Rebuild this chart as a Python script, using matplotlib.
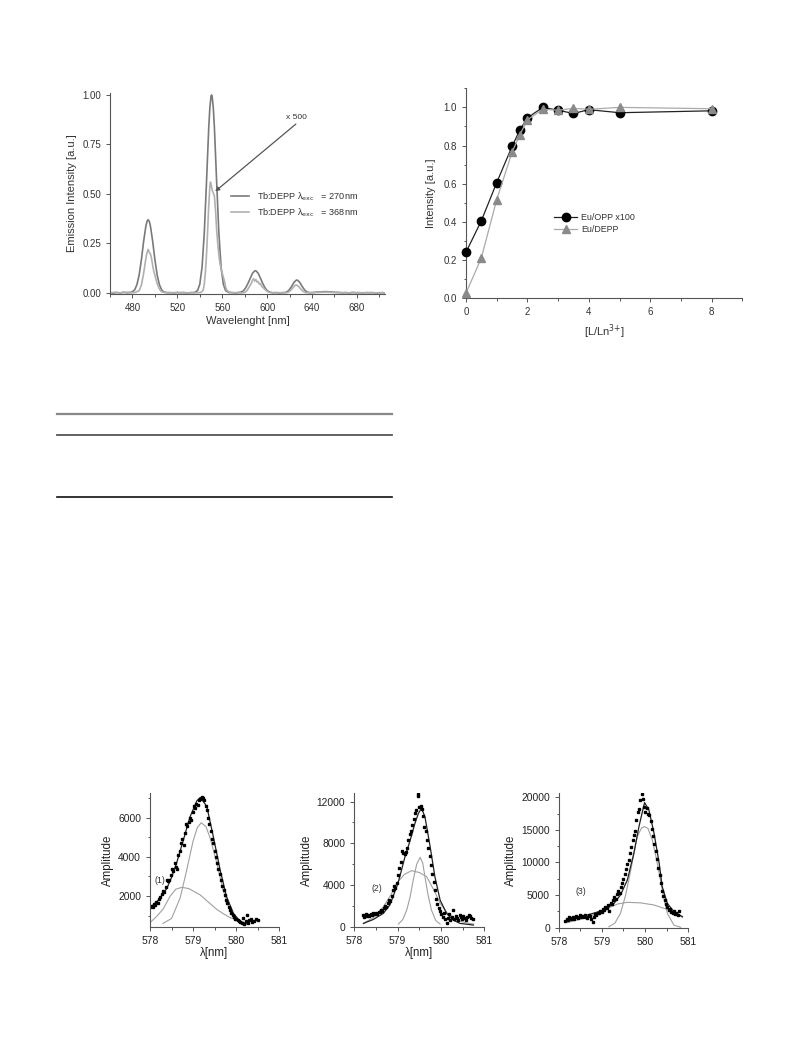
import matplotlib
matplotlib.use("Agg")
import matplotlib.pyplot as plt
from matplotlib.ticker import MultipleLocator
from matplotlib.lines import Line2D

plt.rcParams['font.family'] = ['Liberation Sans', 'DejaVu Sans']

# ---------------- data: emission spectra (top left) ----------------
wl_270 = [460, 463, 466, 469, 472, 475, 478, 480, 482, 484, 486, 488, 490, 492, 493, 494, 495, 496, 498,
          500, 502, 504, 506, 508, 511, 514, 517, 520, 523, 526, 529, 532, 535, 538, 540, 542, 544, 546,
          548, 549, 550, 550.5, 551, 552, 553, 555, 557, 559, 561, 563, 566, 569, 572, 575, 577, 579, 581,
          583, 585, 587, 589, 590, 592, 594, 596, 598, 600, 602, 605, 608, 611, 614, 616, 618, 620, 622,
          624, 626, 627, 629, 631, 633, 635, 637, 640, 643, 646, 649, 652, 655, 658, 661, 664, 667, 670,
          673, 676, 679, 682, 685, 688, 691, 694, 697, 700, 703, 705]
int_270 = [0.002, -0.001, 0.003, 0.000, 0.004, 0.001, 0.002, 0.007, 0.016, 0.042, 0.092, 0.169, 0.262,
           0.339, 0.362, 0.370, 0.362, 0.339, 0.262, 0.169, 0.092, 0.042, 0.016, 0.005, 0.002, 0.002,
           0.000, 0.003, 0.001, 0.002, 0.000, 0.002, 0.002, 0.012, 0.044, 0.129, 0.302, 0.563, 0.838,
           0.938, 0.993, 1.000, 0.993, 0.938, 0.838, 0.563, 0.302, 0.129, 0.044, 0.012, 0.002, 0.002,
           0.000, 0.003, 0.005, 0.012, 0.027, 0.049, 0.075, 0.100, 0.112, 0.112, 0.100, 0.075, 0.049,
           0.027, 0.012, 0.005, 0.001, 0.002, 0.000, 0.002, 0.002, 0.007, 0.018, 0.035, 0.054, 0.065,
           0.065, 0.054, 0.035, 0.018, 0.007, 0.002, 0.002, 0.004, 0.005, 0.006, 0.007, 0.006, 0.005,
           0.003, 0.003, 0.001, 0.002, 0.000, 0.003, 0.001, 0.002, 0.000, 0.002, 0.001, 0.002, 0.000,
           0.001, 0.002, 0.000]

wl_368 = [460, 464, 468, 472, 476, 480, 483, 486, 488, 490, 492, 493, 494, 495, 496, 497, 498, 499, 500,
          501, 502, 504, 506, 509, 513, 517, 521, 525, 529, 533, 537, 541, 543, 544, 545, 546, 547, 548,
          549, 549.5, 550, 551, 552, 553, 554, 555, 556, 557, 558, 559, 560, 561, 562, 563, 564, 566, 569,
          573, 577, 580, 582, 584, 586, 587, 588, 589, 590, 591, 592, 593, 594, 595, 596, 598, 600, 602,
          606, 610, 614, 618, 620, 622, 624, 625, 626, 627, 628, 630, 632, 634, 638, 642, 646, 650, 654,
          658, 662, 666, 670, 674, 678, 682, 686, 690, 694, 698, 702, 705]
int_368 = [0.001, 0.003, 0.000, 0.002, 0.004, 0.001, 0.004, 0.012, 0.040, 0.100, 0.175, 0.205, 0.220,
           0.205, 0.198, 0.175, 0.140, 0.110, 0.090, 0.068, 0.048, 0.020, 0.006, 0.002, 0.000, 0.002,
           0.001, 0.003, 0.000, 0.002, 0.001, 0.003, 0.014, 0.045, 0.105, 0.195, 0.315, 0.445, 0.540,
           0.560, 0.550, 0.520, 0.505, 0.490, 0.420, 0.320, 0.250, 0.190, 0.150, 0.120, 0.100, 0.080,
           0.060, 0.030, 0.015, 0.005, 0.001, 0.002, 0.000, 0.003, 0.012, 0.030, 0.050, 0.065, 0.072,
           0.060, 0.068, 0.055, 0.058, 0.045, 0.048, 0.035, 0.030, 0.018, 0.008, 0.003, 0.001, 0.002,
           0.000, 0.002, 0.008, 0.020, 0.033, 0.039, 0.040, 0.038, 0.033, 0.020, 0.008, 0.002, 0.001,
           0.002, 0.003, 0.004, 0.004, 0.003, 0.002, 0.001, 0.002, 0.000, 0.002, 0.001, 0.000, 0.002,
           0.001, 0.000, 0.001, 0.000]

# ---------------- data: titration (top right) ----------------
ratio = [0, 0.5, 1, 1.5, 1.75, 2, 2.5, 3, 3.5, 4, 5, 8]
eu_opp = [0.24, 0.405, 0.605, 0.795, 0.88, 0.945, 1.0, 0.985, 0.968, 0.988, 0.972, 0.982]
eu_depp = [0.025, 0.21, 0.515, 0.765, 0.855, 0.935, 0.99, 0.985, 0.995, 0.99, 1.0, 0.993]

# ---------------- data: deconvolution panels (bottom) ----------------
p1_x = [578.00, 578.03, 578.06, 578.09, 578.12, 578.15, 578.18, 578.21, 578.24, 578.27, 578.30, 578.33,
        578.36, 578.39, 578.42, 578.45, 578.48, 578.51, 578.54, 578.57, 578.60, 578.63, 578.66, 578.69,
        578.72, 578.75, 578.78, 578.81, 578.84, 578.87, 578.90, 578.93, 578.96, 578.99, 579.02, 579.05,
        579.08, 579.11, 579.14, 579.17, 579.20, 579.23, 579.26, 579.29, 579.32, 579.35, 579.38, 579.41,
        579.44, 579.47, 579.50, 579.53, 579.56, 579.59, 579.62, 579.65, 579.68, 579.71, 579.74, 579.77,
        579.80, 579.83, 579.86, 579.89, 579.92, 579.95, 579.98, 580.01, 580.04, 580.07, 580.10, 580.13,
        580.16, 580.19, 580.22, 580.25, 580.28, 580.31, 580.34, 580.38, 580.42, 580.46, 580.50]
p1_y = [1450, 1500, 1420, 1600, 1550, 1700, 1650, 1850, 1950, 2100, 2250, 2200, 2450, 2800, 2750, 2800,
        3050, 3400, 3300, 3700, 3500, 3400, 4100, 4300, 4700, 4900, 4600, 5200, 5700, 5600, 5800, 6000,
        5900, 6300, 6600, 6500, 6700, 6650, 6900, 6950, 7050, 7000, 6900, 6600, 6400, 6000, 5700, 5300,
        4900, 4700, 4300, 4000, 3700, 3400, 3100, 2800, 2500, 2300, 2050, 1800, 1650, 1450, 1300, 1150,
        1050, 950, 850, 800, 750, 700, 650, 600, 900, 550, 700, 1050, 600, 750, 850, 650, 700, 800, 750]
p1_fit_x = [578.0, 578.2, 578.39, 578.5, 578.62, 578.78, 578.93, 579.09, 579.17, 579.32, 579.47, 579.63,
            579.78, 579.94, 580.1, 580.26]
p1_fit_y = [1400, 1800, 2390, 2950, 3700, 4900, 6050, 6870, 7040, 6580, 5050, 3330, 1960, 1110, 690, 560]
p1_c1_x = [578.0, 578.15, 578.3, 578.47, 578.6, 578.74, 578.9, 579.05, 579.17, 579.35, 579.55, 579.7,
           579.86, 580.1, 580.26]
p1_c1_y = [640, 950, 1320, 2000, 2350, 2444, 2380, 2200, 2050, 1700, 1320, 1100, 900, 700, 620]
p1_c2_x = [578.3, 578.5, 578.7, 578.85, 579.0, 579.1, 579.19, 579.3, 579.4, 579.55, 579.7, 579.85, 580.0,
           580.18]
p1_c2_y = [600, 850, 1900, 3300, 4800, 5500, 5745, 5550, 4950, 3700, 2300, 1300, 800, 600]

p2_x = [578.20, 578.23, 578.26, 578.29, 578.32, 578.35, 578.38, 578.41, 578.44, 578.47, 578.50, 578.53,
        578.56, 578.59, 578.62, 578.65, 578.68, 578.71, 578.74, 578.77, 578.80, 578.83, 578.86, 578.89,
        578.92, 578.95, 578.98, 579.01, 579.04, 579.07, 579.10, 579.13, 579.16, 579.19, 579.22, 579.25,
        579.28, 579.31, 579.34, 579.37, 579.40, 579.43, 579.46, 579.48, 579.50, 579.53, 579.56, 579.59,
        579.62, 579.65, 579.68, 579.71, 579.74, 579.77, 579.80, 579.83, 579.86, 579.89, 579.92, 579.95,
        579.98, 580.01, 580.04, 580.07, 580.10, 580.13, 580.16, 580.19, 580.22, 580.25, 580.28, 580.31,
        580.34, 580.37, 580.40, 580.43, 580.46, 580.49, 580.52, 580.55, 580.58, 580.61, 580.64, 580.67,
        580.70, 580.73]
p2_y = [1100, 950, 1200, 1000, 1150, 1050, 1250, 1100, 1300, 1200, 1350, 1250, 1450, 1400, 1600, 1500,
        1800, 2000, 1900, 2300, 2600, 2500, 2900, 3500, 3900, 3700, 4200, 5000, 5600, 6200, 7300, 7100,
        7000, 7200, 7600, 8300, 8900, 9200, 9800, 10300, 10900, 11200, 12500, 12700, 11500, 11600, 11300,
        10600, 9600, 9200, 8300, 7600, 6800, 5900, 5100, 4300, 3500, 2700, 2200, 1800, 1500, 1200, 900,
        1300, 700, 400, 800, 1200, 600, 900, 1600, 700, 1000, 800, 600, 1100, 900, 700, 1000, 800, 600,
        900, 1100, 1000, 800, 750]
p2_fit_x = [578.21, 578.44, 578.67, 578.82, 578.98, 579.05, 579.17, 579.28, 579.4, 579.48, 579.55, 579.63,
            579.75, 579.86, 579.98, 580.13, 580.28, 580.44, 580.75]
p2_fit_y = [320, 700, 1280, 2080, 3840, 4800, 6720, 8160, 9920, 10880, 11360, 10560, 7680, 4800, 2560,
            1280, 640, 320, 160]
p2_c1_x = [578.21, 578.45, 578.67, 578.85, 578.98, 579.15, 579.32, 579.5, 579.67, 579.85, 579.98, 580.15,
           580.36, 580.55, 580.75]
p2_c1_y = [320, 900, 1920, 3100, 4160, 5000, 5380, 5200, 4800, 3400, 2240, 1300, 640, 400, 256]
p2_c2_x = [579.02, 579.12, 579.21, 579.29, 579.36, 579.44, 579.52, 579.58, 579.63, 579.7, 579.78, 579.88,
           579.98]
p2_c2_y = [256, 700, 1600, 2900, 4480, 6000, 6660, 6100, 4800, 3100, 1600, 600, 256]

p3_x = [578.15, 578.18, 578.21, 578.24, 578.27, 578.30, 578.33, 578.36, 578.39, 578.42, 578.45, 578.48,
        578.51, 578.54, 578.57, 578.60, 578.63, 578.66, 578.69, 578.72, 578.75, 578.78, 578.81, 578.84,
        578.87, 578.90, 578.93, 578.96, 578.99, 579.02, 579.05, 579.08, 579.11, 579.14, 579.17, 579.20,
        579.23, 579.26, 579.29, 579.32, 579.35, 579.38, 579.41, 579.44, 579.47, 579.50, 579.53, 579.56,
        579.59, 579.62, 579.65, 579.68, 579.71, 579.74, 579.77, 579.80, 579.83, 579.86, 579.89, 579.92,
        579.95, 579.98, 580.01, 580.04, 580.07, 580.10, 580.13, 580.16, 580.19, 580.22, 580.25, 580.28,
        580.31, 580.34, 580.37, 580.40, 580.43, 580.46, 580.49, 580.52, 580.55, 580.58, 580.61, 580.64,
        580.67, 580.70, 580.73, 580.76, 580.79]
p3_y = [1100, 1400, 1200, 1600, 1300, 1500, 1700, 1400, 1800, 1600, 1500, 1900, 1700, 1800, 1600, 1900,
        1700, 1500, 2000, 1800, 1300, 900, 1600, 2100, 1900, 2300, 2200, 2600, 2400, 2900, 2700, 3200,
        3000, 3500, 2500, 3800, 3600, 4200, 4700, 4400, 5200, 5600, 5300, 6300, 6800, 7500, 8200, 9000,
        9800, 10300, 11500, 12400, 13500, 14200, 14800, 16500, 17800, 18200, 19500, 20500, 19800, 18500,
        17800, 18300, 17500, 17200, 16300, 15200, 14000, 12900, 11800, 10500, 9200, 8000, 6800, 5600,
        4800, 4200, 3600, 3100, 2700, 2900, 2400, 2200, 2600, 2100, 2300, 1900, 2500]
p3_fit_x = [578.19, 578.66, 579.05, 579.28, 579.43, 579.59, 579.74, 579.86, 579.94, 579.99, 580.09,
            580.21, 580.33, 580.4, 580.52, 580.67, 580.87]
p3_fit_y = [1180, 1940, 2710, 3730, 5010, 7310, 11400, 15500, 17800, 19180, 18060, 14480, 9870, 6290,
            3730, 2460, 1690]
p3_c1_x = [578.19, 578.66, 579.05, 579.36, 579.59, 579.9, 580.21, 580.6, 580.87]
p3_c1_y = [770, 1590, 2710, 3630, 3890, 3800, 3480, 2610, 1590]
p3_c2_x = [579.16, 579.3, 579.43, 579.55, 579.67, 579.82, 579.92, 579.99, 580.07, 580.17, 580.27, 580.36,
           580.44, 580.52, 580.67, 580.83]
p3_c2_y = [150, 700, 2200, 5000, 8850, 13960, 15300, 15500, 15200, 13450, 10400, 7310, 4500, 2200, 400, 50]

DARK = '#333333'
AX = '#555555'


def style(ax, fs=7.0):
    for s in ['top', 'right']:
        ax.spines[s].set_visible(False)
    for s in ['left', 'bottom']:
        ax.spines[s].set_color(AX)
        ax.spines[s].set_linewidth(0.8)
    ax.tick_params(which='both', direction='out', colors=AX, labelcolor=DARK, labelsize=fs, width=0.7)
    ax.tick_params(which='major', length=3)
    ax.tick_params(which='minor', length=1.8)


fig = plt.figure(figsize=(7.93, 10.59), dpi=100)

# ---------------- top left ----------------
ax1 = fig.add_axes([0.1387, 0.7224, 0.3468, 0.1898])
ax1.plot(wl_270, int_270, color='#7a7a7a', lw=1.2, label='Tb:DEPP λ$_{\\rm exc}$   = 270nm')
ax1.plot(wl_368, int_368, color='#b0b0b0', lw=1.2, label='Tb:DEPP λ$_{\\rm exc}$   = 368nm')
ax1.set_xlim(460, 705)
ax1.set_ylim(-0.005, 1.01)
ax1.xaxis.set_minor_locator(MultipleLocator(20))
ax1.set_xticks([480, 520, 560, 600, 640, 680])
ax1.set_yticks([0, 0.25, 0.5, 0.75, 1.0])
ax1.set_yticklabels(['0.00', '0.25', '0.50', '0.75', '1.00'])
style(ax1)
ax1.set_xlabel('Wavelenght [nm]', fontsize=8, color=DARK, labelpad=2)
ax1.set_ylabel('Emission Intensity [a.u.]', fontsize=8, color=DARK, labelpad=4)
ax1.annotate('', xy=(551.8, 0.504), xytext=(627.5, 0.862),
             arrowprops=dict(arrowstyle='-|>', color='#555555', lw=0.9, mutation_scale=6))
ax1.text(626.5, 0.888, 'x 500', fontsize=6, color=DARK, ha='center', va='center')
ax1.legend(loc='center left', bbox_to_anchor=(0.41, 0.445), frameon=False, fontsize=6.6,
           handlelength=2.0, handletextpad=0.8, labelspacing=0.4, labelcolor=DARK)

# ---------------- top right ----------------
ax2 = fig.add_axes([0.5876, 0.7186, 0.3486, 0.198])
ax2.plot(ratio, eu_opp, color='#222222', lw=0.9, marker='o', ms=6.0, mfc='black', mec='black',
         label='Eu/OPP x100', zorder=3)
ax2.plot(ratio, eu_depp, color='#aaaaaa', lw=0.9, marker='^', ms=6.2, mfc='#8a8a8a', mec='#8a8a8a',
         label='Eu/DEPP', zorder=4)
ax2.set_xlim(0, 9)
ax2.set_ylim(0, 1.1)
ax2.set_xticks([0, 2, 4, 6, 8])
ax2.xaxis.set_minor_locator(MultipleLocator(1))
ax2.set_yticks([0, 0.2, 0.4, 0.6, 0.8, 1.0])
ax2.yaxis.set_minor_locator(MultipleLocator(0.1))
ax2.set_yticklabels(['0.0', '0.2', '0.4', '0.6', '0.8', '1.0'])
style(ax2)
ax2.set_xlabel('[L/Ln$^{3{+}}$]', fontsize=8, color=DARK, labelpad=4)
ax2.set_ylabel('Intensity [a.u.]', fontsize=8, color=DARK, labelpad=5)
ax2.legend(loc='center left', bbox_to_anchor=(0.29, 0.356), frameon=False, fontsize=6.4,
           handlelength=2.6, handletextpad=0.4, labelspacing=0.35, labelcolor=DARK)
for line in ax2.get_lines():
    line.set_clip_on(False)

# ---------------- table rules ----------------
fig.add_artist(Line2D([57 / 793, 392 / 793], [1 - 414 / 1059] * 2, color='#888888', lw=1.6))
fig.add_artist(Line2D([57 / 793, 392 / 793], [1 - 435 / 1059] * 2, color='#555555', lw=1.3))
fig.add_artist(Line2D([57 / 793, 392 / 793], [1 - 497 / 1059] * 2, color='#111111', lw=1.2))


# ---------------- bottom panels ----------------
def deconv(rect, px, py, fx, fy, c1x, c1y, c2x, c2y, ylim, yticks, yminor, tag, tagxy, xlabel):
    ax = fig.add_axes(rect)
    ax.plot(c1x, c1y, color='#a0a0a0', lw=0.8)
    ax.plot(c2x, c2y, color='#a0a0a0', lw=0.8)
    ax.plot(fx, fy, color='#222222', lw=0.9)
    ax.plot(px, py, ls='none', marker='s', ms=2.0, color='black')
    ax.set_xlim(578, 581)
    ax.set_ylim(*ylim)
    ax.set_xticks([578, 579, 580, 581])
    ax.xaxis.set_minor_locator(MultipleLocator(0.5))
    ax.set_yticks(yticks)
    ax.yaxis.set_minor_locator(MultipleLocator(yminor))
    style(ax, fs=7.4)
    ax.tick_params(labelcolor='#222222')
    ax.set_ylabel('Amplitude', fontsize=8.3, color='#222222', labelpad=3)
    if xlabel:
        ax.set_xlabel('λ[nm]', fontsize=8.3, color='#222222', labelpad=1)
    ax.text(tagxy[0], tagxy[1], tag, fontsize=6.3, color='#333333', ha='center', va='center')
    return ax


deconv([0.1892, 0.1249, 0.1627, 0.126], p1_x, p1_y, p1_fit_x, p1_fit_y, p1_c1_x, p1_c1_y,
       p1_c2_x, p1_c2_y, (430, 7250), [2000, 4000, 6000], 1000, '(1)', (578.22, 2800), True)
deconv([0.4468, 0.1249, 0.1639, 0.126], p2_x, p2_y, p2_fit_x, p2_fit_y, p2_c1_x, p2_c1_y,
       p2_c2_x, p2_c2_y, (0, 12800), [0, 4000, 8000, 12000], 2000, '(2)', (578.53, 3680), True)
deconv([0.7049, 0.124, 0.1627, 0.1269], p3_x, p3_y, p3_fit_x, p3_fit_y, p3_c1_x, p3_c1_y,
       p3_c2_x, p3_c2_y, (0, 20600), [0, 5000, 10000, 15000, 20000], 2500, '(3)', (578.5, 5520), False)

fig.savefig('out.png', dpi=100)
